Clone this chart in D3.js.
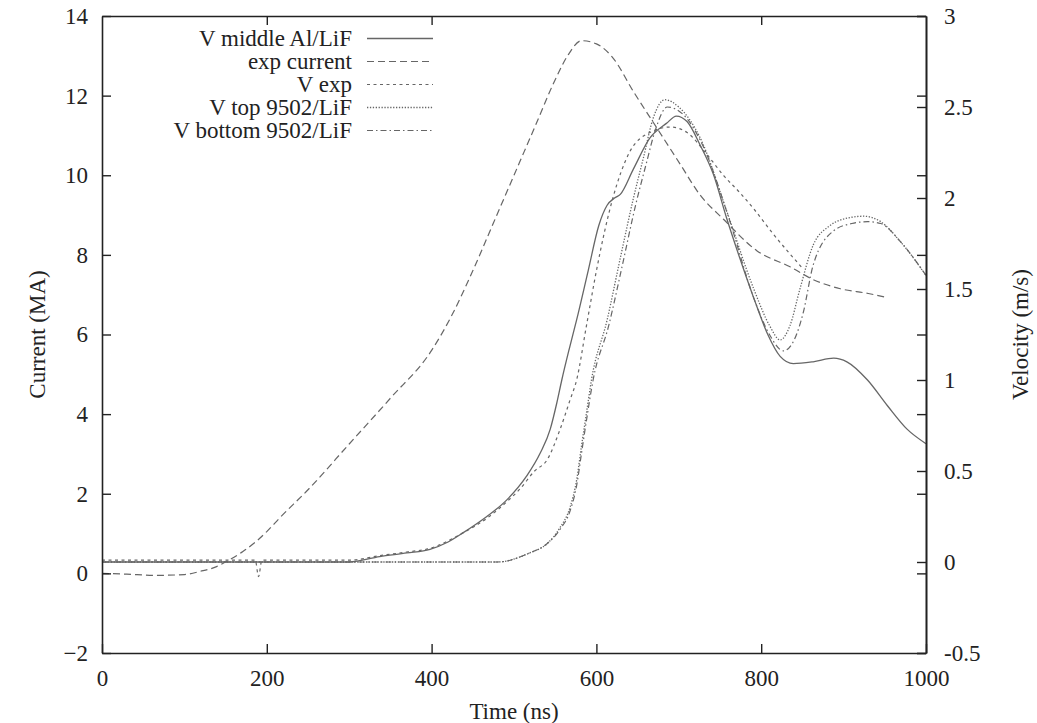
<!DOCTYPE html>
<html>
<head>
<meta charset="utf-8">
<script src="https://cdn.jsdelivr.net/npm/d3@7"></script>
<style>
  body { margin: 0; background: #fff; }
  text { font-family: "Liberation Serif", "DejaVu Serif", serif; fill: #222; }
</style>
</head>
<body>
<svg id="chart" width="1037" height="723"></svg>
<script>
// tick values
var xTicks = [0, 200, 400, 600, 800, 1000];
var yTicks = [-2, 0, 2, 4, 6, 8, 10, 12, 14];
var y2Ticks = [-0.5, 0, 0.5, 1, 1.5, 2, 2.5, 3];

// exp current (MA), left axis
var tCur = [0, 30, 64, 100, 119, 139, 151, 171, 187, 200, 216, 250, 300, 350, 400, 425, 450, 475, 500, 525, 550, 565, 582, 600, 620, 645, 673, 701, 726, 754, 795, 835, 864, 896, 930, 952];
var iCur = [0, -0.02, -0.05, -0.03, 0.05, 0.17, 0.3, 0.55, 0.8, 1.05, 1.4, 2.1, 3.25, 4.4, 5.6, 6.5, 7.6, 8.8, 10.0, 11.2, 12.4, 13.0, 13.38, 13.3, 12.95, 12.1, 11.2, 10.3, 9.5, 8.9, 8.1, 7.7, 7.37, 7.15, 7.03, 6.93];

// V middle Al/LiF (m/s), right axis
var tMid = [0, 300, 337, 370, 398, 420, 438, 467, 491, 515, 532, 544, 552, 558, 567, 576, 590, 603, 613, 622, 629, 645, 665, 685, 697, 710, 726, 742, 758, 774, 791, 808, 823, 839, 863, 888, 904, 929, 953, 977, 1000];
var vMid = [0, 0, 0.03, 0.05, 0.07, 0.11, 0.16, 0.25, 0.34, 0.47, 0.6, 0.73, 0.875, 1.0, 1.17, 1.33, 1.6, 1.85, 1.96, 2.0, 2.02, 2.16, 2.33, 2.41, 2.45, 2.42, 2.29, 2.13, 1.89, 1.67, 1.45, 1.25, 1.13, 1.09, 1.10, 1.12, 1.10, 1.0, 0.86, 0.73, 0.65];

// V exp
var tExp = [0, 60, 120, 186, 190, 194, 250, 300, 337, 370, 398, 438, 467, 491, 507, 525, 540, 556, 568, 576, 588, 600, 620, 640, 665, 690, 710, 734, 755, 774, 791, 815, 849];
var vExp = [0.01, 0.01, 0.01, 0.01, -0.08, 0.01, 0.01, 0.01, 0.035, 0.055, 0.075, 0.16, 0.24, 0.33, 0.4, 0.5, 0.56, 0.73, 0.89, 1.0, 1.3, 1.6, 2.0, 2.25, 2.36, 2.39, 2.36, 2.24, 2.12, 2.03, 1.94, 1.8, 1.62];

// V top 9502/LiF
var tTop = [0, 480, 519, 540, 556, 568, 576, 582, 588, 594, 613, 629, 645, 657, 669, 683, 700, 726, 758, 791, 810, 823, 835, 847, 863, 884, 905, 924, 945, 969, 1000];
var vTop = [0, 0, 0.05, 0.1, 0.19, 0.3, 0.45, 0.64, 0.82, 1.0, 1.33, 1.67, 2.0, 2.22, 2.44, 2.54, 2.5, 2.33, 1.93, 1.5, 1.3, 1.22, 1.3, 1.5, 1.74, 1.85, 1.89, 1.9, 1.87, 1.76, 1.575];

// V bottom 9502/LiF
var tBot = [0, 480, 519, 540, 556, 568, 576, 582, 588, 596, 615, 631, 647, 660, 672, 686, 705, 730, 760, 791, 810, 827, 840, 851, 863, 888, 910, 929, 945, 969, 1000];
var vBot = [0, 0, 0.05, 0.1, 0.18, 0.28, 0.42, 0.6, 0.78, 1.0, 1.3, 1.62, 1.95, 2.18, 2.38, 2.5, 2.46, 2.28, 1.9, 1.45, 1.25, 1.16, 1.22, 1.37, 1.63, 1.82, 1.86, 1.87, 1.86, 1.76, 1.575];

var legendNames = ["V middle Al/LiF", "exp current", "V exp", "V top 9502/LiF", "V bottom 9502/LiF"];

var svg = d3.select("#chart");
var pLeft = 102, pRight = 926, pTop = 16, pBottom = 653;
var fs = 23;

var x = d3.scaleLinear().domain([0, 1000]).range([pLeft, pRight]);
var y = d3.scaleLinear().domain([-2, 14]).range([pBottom, pTop]);
var y2 = d3.scaleLinear().domain([-0.5, 3]).range([pBottom, pTop]);

function zip(ts, vs) { return ts.map(function(t, i) { return [t, vs[i]]; }); }

var series = [
  { data: zip(tMid, vMid), sc: y2, dash: null, w: 1.3, col: "#666" },
  { data: zip(tCur, iCur), sc: y,  dash: "7,4", w: 1.2, col: "#666" },
  { data: zip(tExp, vExp), sc: y2, dash: "3,3.5", w: 1.2, col: "#666" },
  { data: zip(tTop, vTop), sc: y2, dash: "1.3,1.6", w: 1.3, col: "#666" },
  { data: zip(tBot, vBot), sc: y2, dash: "6,3,1.5,3", w: 1.2, col: "#666" }
];

svg.append("clipPath").attr("id", "clip")
  .append("rect").attr("x", pLeft).attr("y", pTop).attr("width", pRight - pLeft).attr("height", pBottom - pTop);

var plot = svg.append("g").attr("clip-path", "url(#clip)");
series.forEach(function(s) {
  var line = d3.line()
    .x(function(d) { return x(d[0]); })
    .y(function(d) { return s.sc(d[1]); })
    .curve(d3.curveMonotoneX);
  plot.append("path")
    .attr("d", line(s.data))
    .attr("fill", "none")
    .attr("stroke", s.col)
    .attr("stroke-width", s.w)
    .attr("stroke-dasharray", s.dash);
});

// axes
function style(g) {
  g.selectAll("path.domain").attr("stroke", "#222").attr("stroke-width", 1.6);
  g.selectAll(".tick line").attr("stroke", "#222").attr("stroke-width", 1.4);
  g.selectAll("text").attr("font-family", "Liberation Serif").attr("font-size", fs).attr("fill", "#222");
}

svg.append("g").attr("transform", "translate(0," + pBottom + ")")
  .call(d3.axisBottom(x).tickValues(xTicks).tickSize(-9).tickSizeOuter(0).tickPadding(17).tickFormat(d3.format("d")))
  .call(style);
svg.append("g").attr("transform", "translate(0," + pTop + ")")
  .call(d3.axisTop(x).tickValues([200, 400, 600, 800]).tickSize(-9).tickSizeOuter(0).tickFormat(""))
  .call(style);
svg.append("g").attr("transform", "translate(" + pLeft + ",0)")
  .call(d3.axisLeft(y).tickValues(yTicks).tickSize(-9).tickSizeOuter(0).tickPadding(14).tickFormat(d3.format("d")))
  .call(style);
svg.append("g").attr("transform", "translate(" + pRight + ",0)")
  .call(d3.axisRight(y).tickValues(yTicks).tickSize(-9).tickSizeOuter(0).tickFormat(""))
  .call(style);
svg.append("g").attr("transform", "translate(" + pRight + ",0)")
  .call(d3.axisRight(y2).tickValues(y2Ticks).tickSize(-9).tickSizeOuter(0).tickPadding(18).tickFormat(function(d) { return String(d); }))
  .call(style);

// axis titles
svg.append("text").attr("x", (pLeft + pRight) / 2).attr("y", 719)
  .attr("text-anchor", "middle").attr("font-size", fs).text("Time (ns)");
svg.append("text").attr("transform", "translate(45," + (pTop + pBottom) / 2 + ") rotate(-90)")
  .attr("text-anchor", "middle").attr("font-size", fs).text("Current (MA)");
svg.append("text").attr("transform", "translate(1028," + (pTop + pBottom) / 2 + ") rotate(-90)")
  .attr("text-anchor", "middle").attr("font-size", fs).text("Velocity (m/s)");

// legend
var lg = svg.append("g");
legendNames.forEach(function(n, i) {
  var yy = 38.5 + i * 23;
  lg.append("text").attr("x", 352).attr("y", yy).attr("dy", "0.33em")
    .attr("text-anchor", "end").attr("font-size", fs).text(n);
  lg.append("line").attr("x1", 367).attr("x2", 433).attr("y1", yy).attr("y2", yy)
    .attr("stroke", series[i].col).attr("stroke-width", series[i].w)
    .attr("stroke-dasharray", series[i].dash);
});
</script>
</body>
</html>
